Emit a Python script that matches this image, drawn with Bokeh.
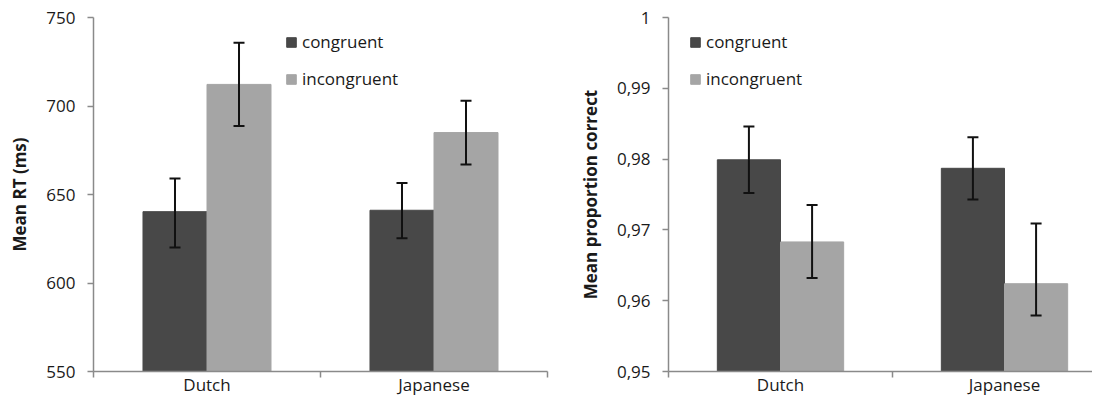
from bokeh.plotting import figure
from bokeh.models import (ColumnDataSource, Whisker, TeeHead, FixedTicker, Legend,
                          LegendItem, Range1d)
from bokeh.layouts import row
from bokeh.embed import file_html
from bokeh.resources import INLINE

# ---------------- data ----------------
groups = ["Dutch", "Japanese"]
conditions = ["congruent", "incongruent"]

rt_congruent = [640.3, 641.1]
rt_congruent_lo = [620.0, 625.3]
rt_congruent_hi = [659.0, 656.5]
rt_incongruent = [712.2, 685.0]
rt_incongruent_lo = [688.7, 667.0]
rt_incongruent_hi = [735.7, 703.0]

acc_congruent = [0.9799, 0.9787]
acc_congruent_lo = [0.9752, 0.9743]
acc_congruent_hi = [0.9846, 0.9831]
acc_incongruent = [0.9683, 0.9624]
acc_incongruent_lo = [0.9632, 0.9579]
acc_incongruent_hi = [0.9735, 0.9709]

rt_ticks = [550, 600, 650, 700, 750]
rt_tick_labels = ["550", "600", "650", "700", "750"]
acc_ticks = [0.95, 0.96, 0.97, 0.98, 0.99, 1.0]
acc_tick_labels = ["0,95", "0,96", "0,97", "0,98", "0,99", "1"]

rt_title = "Mean RT (ms)"
acc_title = "Mean proportion correct"

# ---------------- style ----------------
FONT = "Open Sans"
DARK = "#484848"
LIGHT = "#a5a5a5"
AXIS = "#8a8a8a"
TXT = "#1a1a1a"
BAR_W = 0.282
H = 398


def panel(width, border_left, border_right, x_end, y0, y1, ticks, tick_labels,
          ytitle, cong, cong_lo, cong_hi, incong, incong_lo, incong_hi, legend_x):
    p = figure(width=width, height=H, x_range=Range1d(0, x_end),
               y_range=Range1d(y0, y1), output_backend="svg",
               toolbar_location=None, tools="",
               min_border_left=border_left, min_border_right=border_right,
               min_border_top=17, min_border_bottom=26)
    p.outline_line_color = None
    p.xgrid.visible = False
    p.ygrid.visible = False
    p.background_fill_color = "white"
    p.border_fill_color = "white"

    idx = list(range(len(groups)))
    xc = [i + 0.5 - BAR_W / 2 for i in idx]
    xi = [i + 0.5 + BAR_W / 2 for i in idx]
    s_c = ColumnDataSource(dict(x=xc, top=cong, lo=cong_lo, hi=cong_hi))
    s_i = ColumnDataSource(dict(x=xi, top=incong, lo=incong_lo, hi=incong_hi))

    r_c = p.vbar(x="x", top="top", bottom=y0, width=BAR_W, source=s_c,
                 fill_color=DARK, line_color=DARK)
    r_i = p.vbar(x="x", top="top", bottom=y0, width=BAR_W, source=s_i,
                 fill_color=LIGHT, line_color=LIGHT)

    for s in (s_c, s_i):
        w = Whisker(source=s, base="x", lower="lo", upper="hi", level="annotation",
                    line_color="#111111", line_width=2,
                    upper_head=TeeHead(size=11, line_width=2, line_color="#111111"),
                    lower_head=TeeHead(size=11, line_width=2, line_color="#111111"))
        p.add_layout(w)

    # x axis
    xa = p.xaxis[0]
    xa.ticker = FixedTicker(ticks=[i + 0.5 for i in idx],
                            minor_ticks=[float(i) for i in range(len(groups) + 1)])
    xa.major_label_overrides = {i + 0.5: g for i, g in zip(idx, groups)}
    xa.major_tick_out = 0
    xa.major_tick_in = 0
    xa.minor_tick_out = 6
    xa.minor_tick_in = 0
    xa.minor_tick_line_color = AXIS
    xa.minor_tick_line_width = 1.5
    xa.axis_line_color = AXIS
    xa.axis_line_width = 1.5
    xa.major_label_standoff = -5
    xa.major_label_text_font = FONT
    xa.major_label_text_font_size = "17px"
    xa.major_label_text_color = TXT

    # y axis
    ya = p.yaxis[0]
    ya.ticker = FixedTicker(ticks=ticks, minor_ticks=[])
    ya.major_label_overrides = {t: l for t, l in zip(ticks, tick_labels)}
    ya.major_tick_out = 6
    ya.major_tick_in = 0
    ya.major_tick_line_color = AXIS
    ya.major_tick_line_width = 1.5
    ya.minor_tick_out = 0
    ya.minor_tick_in = 0
    ya.axis_line_color = AXIS
    ya.axis_line_width = 1.5
    ya.major_label_standoff = 12
    ya.major_label_text_font = FONT
    ya.major_label_text_font_size = "17px"
    ya.major_label_text_color = TXT
    ya.axis_label = ytitle
    ya.axis_label_text_font = FONT
    ya.axis_label_text_font_style = "bold"
    ya.axis_label_text_font_size = "17px"
    ya.axis_label_text_color = TXT
    ya.axis_label_standoff = 12

    leg = Legend(items=[LegendItem(label=conditions[0], renderers=[r_c]),
                        LegendItem(label=conditions[1], renderers=[r_i])],
                 location=(legend_x, 281), border_line_color=None,
                 background_fill_alpha=0, glyph_width=12, glyph_height=12,
                 label_height=20, spacing=14, padding=0, margin=0,
                 label_standoff=5, label_text_font=FONT,
                 label_text_font_size="17px", label_text_color=TXT)
    p.add_layout(leg)
    return p


p1 = panel(560, 93, 13, 2.0, 550, 750, rt_ticks, rt_tick_labels, rt_title,
           rt_congruent, rt_congruent_lo, rt_congruent_hi,
           rt_incongruent, rt_incongruent_lo, rt_incongruent_hi, 192)
p2 = panel(532, 108, 0, 424 / 224, 0.95, 1.0, acc_ticks, acc_tick_labels, acc_title,
           acc_congruent, acc_congruent_lo, acc_congruent_hi,
           acc_incongruent, acc_incongruent_lo, acc_incongruent_hi, 21)

layout = row(p1, p2, spacing=0)
open("out.html", "w").write(file_html(layout, INLINE))
